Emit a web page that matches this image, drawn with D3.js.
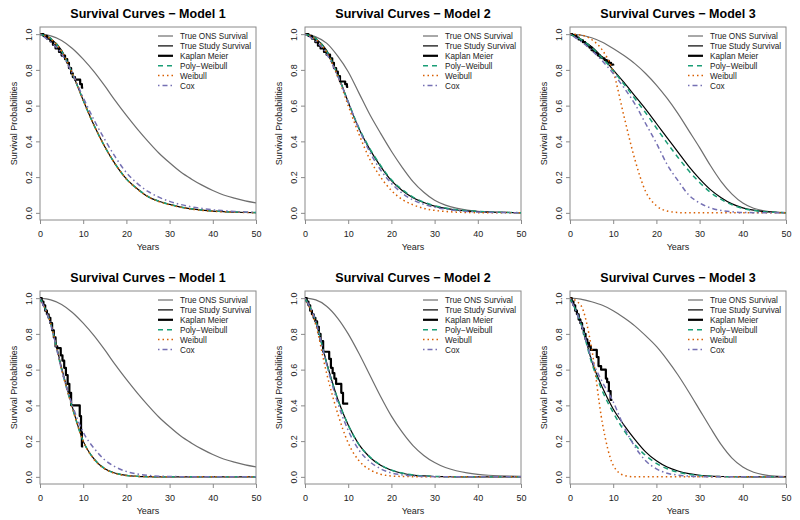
<!DOCTYPE html>
<html><head><meta charset="utf-8">
<script src="https://cdn.jsdelivr.net/npm/d3@7"></script>
<style>body{margin:0;background:#fff}svg{display:block}text{font-family:"Liberation Sans",Arial,sans-serif}</style>
</head><body>
<script>
// ---------- data ----------
const years = [0,2.5,5,7.5,10,12.5,15,17.5,20,22.5,25,27.5,30,32.5,35,37.5,40,42.5,45,47.5,50];
const xTicks = [0,10,20,30,40,50];
const yTicks = [0,0.2,0.4,0.6,0.8,1.0];
const titles = ["Survival Curves \u2212 Model 1","Survival Curves \u2212 Model 2","Survival Curves \u2212 Model 3",
                "Survival Curves \u2212 Model 1","Survival Curves \u2212 Model 2","Survival Curves \u2212 Model 3"];
const legendLabels = ["True ONS Survival","True Study Survival","Kaplan Meier","Poly\u2212Weibull","Weibull","Cox"];

// Panel A (top, Model 1)
const onsA   = [1,0.99,0.965,0.92,0.86,0.79,0.71,0.625,0.545,0.47,0.40,0.335,0.28,0.23,0.19,0.155,0.125,0.1,0.082,0.067,0.056];
const studyA = [1,0.975,0.91,0.78,0.63,0.49,0.37,0.27,0.19,0.135,0.09,0.065,0.047,0.032,0.022,0.015,0.01,0.007,0.004,0.002,0.001];
const pwA    = [1,0.975,0.905,0.78,0.63,0.49,0.37,0.27,0.19,0.135,0.092,0.065,0.047,0.033,0.023,0.016,0.011,0.007,0.005,0.003,0.002];
const wbA    = [1,0.973,0.905,0.78,0.63,0.49,0.37,0.27,0.19,0.133,0.09,0.063,0.045,0.031,0.021,0.014,0.009,0.006,0.004,0.002,0.001];
const coxA   = [1,0.955,0.89,0.78,0.645,0.52,0.41,0.31,0.225,0.165,0.12,0.088,0.064,0.047,0.034,0.025,0.017,0.012,0.008,0.005,0.003];
const kmA_t  = [0,0.8,1.6,2.4,3,3.6,4.4,5,5.8,6.3,6.7,7.2,7.6,8.1,9.3,9.7,10];
const kmA_s  = [1,0.99,0.975,0.96,0.94,0.92,0.9,0.88,0.86,0.84,0.81,0.78,0.76,0.745,0.72,0.70,0.70];

// Panel B (top, Model 2)
const onsB   = [1,0.985,0.95,0.88,0.79,0.67,0.55,0.445,0.345,0.255,0.175,0.115,0.07,0.043,0.026,0.015,0.009,0.005,0.003,0.002,0.001];
const studyB = [1,0.975,0.91,0.78,0.62,0.47,0.355,0.26,0.18,0.125,0.085,0.058,0.038,0.025,0.016,0.01,0.007,0.004,0.003,0.002,0.001];
const pwB    = [1,0.975,0.905,0.775,0.62,0.475,0.36,0.265,0.185,0.13,0.088,0.06,0.04,0.027,0.018,0.012,0.008,0.005,0.003,0.002,0.001];
const wbB    = [1,0.97,0.9,0.77,0.6,0.44,0.3,0.2,0.125,0.075,0.045,0.025,0.014,0.008,0.004,0.002,0.001,0,0,0,0];
const coxB   = [1,0.96,0.89,0.77,0.62,0.47,0.34,0.24,0.165,0.11,0.072,0.048,0.032,0.021,0.013,0.008,0.005,0.003,0.002,0.001,0.001];
const kmB_t  = [0,0.8,1.6,2.4,3,3.6,4.4,5,5.8,6.3,6.7,7.2,7.6,8.1,9.3,9.7,10];
const kmB_s  = [1,0.99,0.975,0.955,0.935,0.92,0.9,0.885,0.865,0.84,0.81,0.79,0.765,0.735,0.72,0.705,0.705];

// Panel C (top, Model 3)
const onsC   = [1,0.995,0.98,0.955,0.92,0.88,0.835,0.78,0.715,0.64,0.555,0.46,0.365,0.265,0.175,0.105,0.055,0.026,0.011,0.004,0.001];
const studyC = [1,0.97,0.93,0.87,0.8,0.73,0.655,0.58,0.5,0.42,0.34,0.26,0.19,0.13,0.085,0.05,0.028,0.015,0.007,0.003,0.001];
const pwC    = [1,0.97,0.925,0.865,0.795,0.72,0.64,0.56,0.475,0.39,0.31,0.235,0.17,0.115,0.075,0.045,0.025,0.013,0.006,0.003,0.001];
const wbC    = [1,0.995,0.97,0.91,0.79,0.54,0.3,0.12,0.04,0.01,0.002,0,0,0,0,0,0,0,0,0,0];
const coxC   = [1,0.96,0.91,0.85,0.78,0.7,0.61,0.5,0.39,0.27,0.18,0.1,0.055,0.028,0.013,0.006,0.002,0.001,0,0,0];
const kmC_t  = [0,0.5,1,1.5,2,2.5,3,3.5,4,4.5,5,5.5,6,6.5,7,7.5,8,8.5,9,9.5,10];
const kmC_s  = [1,0.995,0.99,0.98,0.97,0.965,0.955,0.945,0.935,0.925,0.91,0.9,0.89,0.88,0.87,0.865,0.855,0.85,0.84,0.83,0.825];

// Panel D (bottom, Model 1)
const onsD   = [1,0.99,0.965,0.92,0.86,0.79,0.71,0.625,0.545,0.47,0.40,0.335,0.28,0.23,0.19,0.155,0.125,0.1,0.082,0.067,0.056];
const studyD = [1,0.86,0.61,0.39,0.2,0.1,0.045,0.02,0.008,0.003,0.001,0,0,0,0,0,0,0,0,0,0];
const pwD    = [1,0.855,0.6,0.385,0.2,0.1,0.046,0.02,0.008,0.003,0.001,0,0,0,0,0,0,0,0,0,0];
const wbD    = [1,0.855,0.6,0.385,0.2,0.098,0.044,0.018,0.007,0.003,0.001,0,0,0,0,0,0,0,0,0,0];
const coxD   = [1,0.85,0.6,0.4,0.25,0.16,0.095,0.055,0.03,0.016,0.008,0.004,0.002,0.001,0,0,0,0,0,0,0];
const kmD_t  = [0,0.4,0.8,1.2,1.6,2,2.4,2.8,3.2,3.6,4,4.8,5.2,5.6,6,6.4,6.8,7.2,9.2,9.5,9.7,10];
const kmD_s  = [1,0.98,0.96,0.93,0.91,0.89,0.86,0.82,0.78,0.73,0.72,0.68,0.65,0.61,0.57,0.52,0.47,0.4,0.34,0.25,0.17,0.17];

// Panel E (bottom, Model 2)
const onsE   = [1,0.99,0.955,0.89,0.8,0.69,0.57,0.45,0.34,0.25,0.175,0.12,0.08,0.052,0.034,0.022,0.014,0.009,0.006,0.004,0.003];
const studyE = [1,0.87,0.64,0.44,0.29,0.18,0.11,0.065,0.037,0.02,0.01,0.005,0.002,0.001,0,0,0,0,0,0,0];
const pwE    = [1,0.87,0.635,0.44,0.29,0.18,0.112,0.067,0.038,0.021,0.011,0.005,0.002,0.001,0,0,0,0,0,0,0];
const wbE    = [1,0.85,0.58,0.36,0.19,0.09,0.04,0.015,0.005,0.002,0.001,0,0,0,0,0,0,0,0,0,0];
const coxE   = [1,0.87,0.63,0.42,0.26,0.15,0.085,0.045,0.022,0.011,0.005,0.002,0.001,0,0,0,0,0,0,0,0];
const kmE_t  = [0,0.4,0.8,1.2,1.6,2,2.4,2.8,3.2,3.6,4.2,5.6,6,6.4,6.8,7.2,8.4,8.8,10];
const kmE_s  = [1,0.98,0.96,0.93,0.91,0.89,0.87,0.84,0.8,0.76,0.7,0.66,0.61,0.58,0.55,0.52,0.47,0.41,0.41];

// Panel F (bottom, Model 3)
const onsF   = [1,0.995,0.98,0.96,0.93,0.89,0.845,0.79,0.73,0.655,0.57,0.475,0.375,0.275,0.18,0.105,0.055,0.026,0.011,0.004,0.001];
const studyF = [1,0.87,0.65,0.5,0.38,0.29,0.21,0.14,0.09,0.055,0.033,0.018,0.009,0.004,0.002,0.001,0,0,0,0,0];
const pwF    = [1,0.86,0.64,0.48,0.36,0.26,0.18,0.12,0.075,0.045,0.026,0.014,0.007,0.003,0.001,0,0,0,0,0,0];
const wbF    = [1,0.96,0.72,0.3,0.065,0.008,0,0,0,0,0,0,0,0,0,0,0,0,0,0,0];
const coxF   = [1,0.86,0.66,0.53,0.42,0.28,0.17,0.09,0.045,0.02,0.01,0.004,0.001,0,0,0,0,0,0,0,0];
const kmF_t  = [0,0.4,0.8,1.2,1.6,2,2.4,2.8,3.2,3.6,4,4.4,4.8,6.2,6.6,7.2,8.3,8.6,9,9.4,9.8];
const kmF_s  = [1,0.98,0.96,0.93,0.91,0.88,0.86,0.83,0.8,0.77,0.75,0.73,0.71,0.67,0.62,0.6,0.55,0.53,0.48,0.43,0.43];

// ---------- build ----------
const panels = [
  {ons:onsA, study:studyA, pw:pwA, wb:wbA, cox:coxA, kmT:kmA_t, kmS:kmA_s},
  {ons:onsB, study:studyB, pw:pwB, wb:wbB, cox:coxB, kmT:kmB_t, kmS:kmB_s},
  {ons:onsC, study:studyC, pw:pwC, wb:wbC, cox:coxC, kmT:kmC_t, kmS:kmC_s},
  {ons:onsD, study:studyD, pw:pwD, wb:wbD, cox:coxD, kmT:kmD_t, kmS:kmD_s},
  {ons:onsE, study:studyE, pw:pwE, wb:wbE, cox:coxE, kmT:kmE_t, kmS:kmE_s},
  {ons:onsF, study:studyF, pw:pwF, wb:wbF, cox:coxF, kmT:kmF_t, kmS:kmF_s}
];

const styles = {
  ons:   {color:"#6e6e6e", w:1.2, dash:null},
  study: {color:"#000",    w:1.2, dash:null},
  km:    {color:"#000",    w:2.2, dash:null},
  pw:    {color:"#1B9E77", w:1.5, dash:"5,4"},
  wb:    {color:"#D95F02", w:1.5, dash:"1.5,3"},
  cox:   {color:"#7570B3", w:1.5, dash:"1.5,3,5,3"}
};
const legendKeys = ["ons","study","km","pw","wb","cox"];

const svg = d3.select("body").append("svg").attr("width",800).attr("height",520);
const PW = 216, PH = 193;

panels.forEach((p,i)=>{
  const col = i%3, row = Math.floor(i/3);
  const left = 40 + 265*col, top = 27 + 264*row;
  const x = d3.scaleLinear().domain([0,50]).range([left,left+PW]);
  const y = d3.scaleLinear().domain([-0.04,1.04]).range([top+PH,top]);
  const g = svg.append("g");

  const cid = "clip"+i;
  svg.append("clipPath").attr("id",cid).append("rect")
    .attr("x",left).attr("y",top).attr("width",PW).attr("height",PH);

  g.append("text").attr("x",left+PW/2).attr("y",top-9.5).attr("text-anchor","middle")
    .attr("font-weight","bold").attr("font-size",12.5).attr("fill","#000").text(titles[i]);

  const xa = g.append("g").attr("transform",`translate(0,${top+PH})`)
    .call(d3.axisBottom(x).tickValues(xTicks).tickSize(4).tickSizeOuter(0).tickFormat(d3.format("d")));
  xa.select(".domain").remove();
  xa.selectAll(".tick line").attr("stroke","#8a8a8a");
  xa.selectAll(".tick text").attr("y",16.5).attr("dy",0).attr("font-size",9).attr("fill","#222")
    .attr("font-family","Liberation Sans, Arial, sans-serif");

  const ya = g.append("g").attr("transform",`translate(${left},0)`)
    .call(d3.axisLeft(y).tickValues(yTicks).tickSize(4).tickSizeOuter(0).tickFormat(d3.format(".1f")));
  ya.select(".domain").remove();
  ya.selectAll(".tick line").attr("stroke","#8a8a8a");
  ya.selectAll(".tick text").attr("x",0).attr("y",-8.5).attr("dy",0).attr("text-anchor","middle")
    .attr("transform","rotate(-90)").attr("font-size",9).attr("fill","#222")
    .attr("font-family","Liberation Sans, Arial, sans-serif");

  g.append("rect").attr("x",left).attr("y",top).attr("width",PW).attr("height",PH)
    .attr("fill","none").attr("stroke","#8a8a8a").attr("stroke-width",1);

  g.append("text").attr("x",left+PW/2).attr("y",top+PH+30).attr("text-anchor","middle")
    .attr("font-size",9).attr("fill","#222").text("Years");
  g.append("text").attr("transform",`translate(${left-23.5},${top+PH/2}) rotate(-90)`)
    .attr("text-anchor","middle").attr("font-size",9).attr("fill","#222").text("Survival Probabilities");

  const smooth = d3.line().x(d=>x(d[0])).y(d=>y(d[1])).curve(d3.curveMonotoneX);
  const step = d3.line().x(d=>x(d[0])).y(d=>y(d[1])).curve(d3.curveStepAfter);
  const cg = g.append("g").attr("clip-path",`url(#${cid})`);
  function draw(key, pts, gen){
    const s = styles[key];
    cg.append("path").attr("d",gen(pts)).attr("fill","none").attr("stroke",s.color)
      .attr("stroke-width",s.w).attr("stroke-dasharray",s.dash).attr("stroke-linejoin","round");
  }
  draw("ons",   years.map((t,j)=>[t,p.ons[j]]), smooth);
  draw("study", years.map((t,j)=>[t,p.study[j]]), smooth);
  draw("km",    p.kmT.map((t,j)=>[t,p.kmS[j]]), step);
  draw("pw",    years.map((t,j)=>[t,p.pw[j]]), smooth);
  draw("wb",    years.map((t,j)=>[t,p.wb[j]]), smooth);
  draw("cox",   years.map((t,j)=>[t,p.cox[j]]), smooth);

  const lg = g.append("g");
  legendKeys.forEach((k,j)=>{
    const yy = top + 9 + j*9.9;
    const s = styles[k];
    lg.append("line").attr("x1",left+118).attr("x2",left+133).attr("y1",yy).attr("y2",yy)
      .attr("stroke",s.color).attr("stroke-width",s.w).attr("stroke-dasharray",s.dash);
    lg.append("text").attr("x",left+140).attr("y",yy+3).attr("font-size",8.2).attr("fill","#222")
      .text(legendLabels[j]);
  });
});
</script>
</body></html>
